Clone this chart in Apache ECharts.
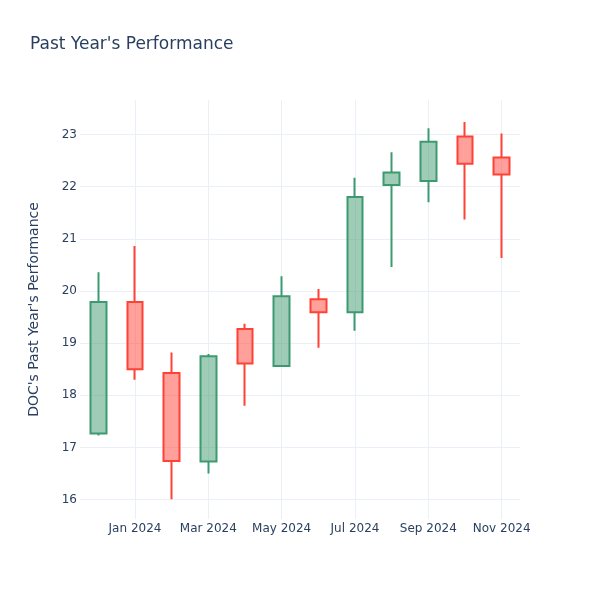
<!DOCTYPE html>
<html><head><meta charset="utf-8">
<script src="https://cdn.jsdelivr.net/npm/echarts@6/dist/echarts.min.js"></script>
<style>html,body{margin:0;padding:0;background:#fff}#c{width:600px;height:600px}</style>
</head><body><div id="c"></div>
<script>
const months = ['Dec 2023','Jan 2024','Feb 2024','Mar 2024','Apr 2024','May 2024','Jun 2024','Jul 2024','Aug 2024','Sep 2024','Oct 2024','Nov 2024'];
const openV  = [17.27, 19.79, 18.43, 16.73, 19.27, 18.56, 19.84, 19.59, 22.03, 22.11, 22.96, 22.56];
const closeV = [19.79, 18.50, 16.74, 18.75, 18.61, 19.90, 19.59, 21.80, 22.27, 22.86, 22.44, 22.23];
const lowV   = [17.23, 18.30, 16.01, 16.50, 17.80, 18.56, 18.91, 19.24, 20.46, 21.70, 21.37, 20.63];
const highV  = [20.36, 20.86, 18.82, 18.79, 19.37, 20.28, 20.04, 22.17, 22.66, 23.12, 23.24, 23.02];

const candles = months.map((m, i) => [openV[i], closeV[i], lowV[i], highV[i]]);
const FONT = 'DejaVu Sans';
const TXT = '#2a3f5f';
const GRID = '#ebf0f8';

const chart = echarts.init(document.getElementById('c'), null, {renderer: 'canvas'});
chart.setOption({
  animation: false,
  backgroundColor: '#fff',
  textStyle: {fontFamily: FONT},
  title: {
    text: "Past Year's Performance",
    left: 25, top: 31,
    textStyle: {fontFamily: FONT, fontSize: 17, fontWeight: 'normal', color: TXT}
  },
  grid: {left: 80, right: 80, top: 100, bottom: 81, containLabel: false},
  xAxis: {
    type: 'category',
    data: months,
    boundaryGap: true,
    axisLine: {show: false},
    axisTick: {show: false},
    axisLabel: {
      interval: (i) => i % 2 === 1,
      color: TXT, fontSize: 12, fontFamily: FONT, margin: 4
    },
    splitLine: {
      show: true,
      interval: (i) => i % 2 === 1,
      alignWithLabel: true,
      lineStyle: {color: GRID, width: 1}
    }
  },
  yAxis: {
    type: 'value',
    min: 15.63, max: 23.66,
    minInterval: 1, maxInterval: 1,
    name: "DOC's Past Year's Performance",
    nameLocation: 'middle',
    nameGap: 39,
    nameTextStyle: {color: TXT, fontSize: 14, fontFamily: FONT},
    axisLine: {show: false},
    axisTick: {show: false},
    axisLabel: {
      color: TXT, fontSize: 12, fontFamily: FONT, margin: 3,
      showMinLabel: false, showMaxLabel: false,
      formatter: (v) => Math.abs(v - Math.round(v)) < 1e-6 ? String(Math.round(v)) : ''
    },
    splitLine: {show: true, showMinLine: false, showMaxLine: false, lineStyle: {color: GRID, width: 1}}
  },
  series: [{
    type: 'candlestick',
    data: candles,
    barWidth: 16,
    itemStyle: {
      color: 'rgba(61,153,112,0.5)',
      color0: 'rgba(255,65,54,0.5)',
      borderColor: '#3D9970',
      borderColor0: '#FF4136',
      borderWidth: 2
    }
  }]
});
</script></body></html>
